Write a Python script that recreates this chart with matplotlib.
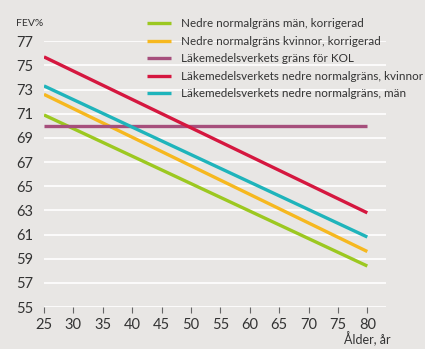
import numpy as np
import matplotlib.pyplot as plt

plt.rcParams['font.family'] = ['Lato', 'DejaVu Sans']

ages = [25, 80]
green = [70.9, 58.4]    # Nedre normalgräns män, korrigerad
orange = [72.6, 59.6]   # Nedre normalgräns kvinnor, korrigerad
purple = [70.0, 70.0]   # Läkemedelsverkets gräns för KOL
red = [75.7, 62.8]      # Läkemedelsverkets nedre normalgräns, kvinnor
cyan = [73.3, 60.8]     # Läkemedelsverkets nedre normalgräns, män

labels = [
    'Nedre normalgräns män, korrigerad',
    'Nedre normalgräns kvinnor, korrigerad',
    'Läkemedelsverkets gräns för KOL',
    'Läkemedelsverkets nedre normalgräns, kvinnor',
    'Läkemedelsverkets nedre normalgräns, män',
]
colors = ['#9cc820', '#f6b81f', '#a64f7c', '#d5173f', '#1fb4bb']
series = [green, orange, purple, red, cyan]

yticks = list(range(55, 78, 2))
xticks = list(range(25, 81, 5))

bg = '#e8e6e4'
fig = plt.figure(figsize=(4.25, 3.49), dpi=100, facecolor=bg)
ax = fig.add_axes([0.1035, 0.120, 0.805, 0.762], facecolor=bg)

for y in yticks:
    ax.axhline(y, color='white', lw=1.2, zorder=1)

handles = []
for vals, c, lab in zip(series, colors, labels):
    h, = ax.plot(ages, vals, color=c, lw=2.4, label=lab, zorder=3,
                 solid_capstyle='butt')
    handles.append(h)

ax.set_xlim(25, 83.2)
ax.set_ylim(55, 77)
ax.set_yticks(yticks)
ax.set_xticks(xticks)
for s in ax.spines.values():
    s.set_visible(False)
ax.tick_params(axis='y', length=0, pad=8, labelsize=10.5, labelcolor='#333333')
ax.tick_params(axis='x', length=4, width=0.8, color='#666666', pad=4,
               labelsize=10.5, labelcolor='#333333', direction='out')

fig.text(0.037, 0.934, 'FEV%', fontsize=7.5, color='#333333', va='center')
fig.text(0.865, 0.029, 'Ålder, år', fontsize=9, color='#333333',
         ha='center', va='center')

fig.legend(handles=handles, loc='upper left', bbox_to_anchor=(0.346, 0.947),
           frameon=False, fontsize=8.4, handlelength=2.05, handletextpad=0.85,
           labelspacing=0.55, borderpad=0, borderaxespad=0,
           labelcolor='#333333')

fig.savefig('out.png', dpi=100, facecolor=bg)
